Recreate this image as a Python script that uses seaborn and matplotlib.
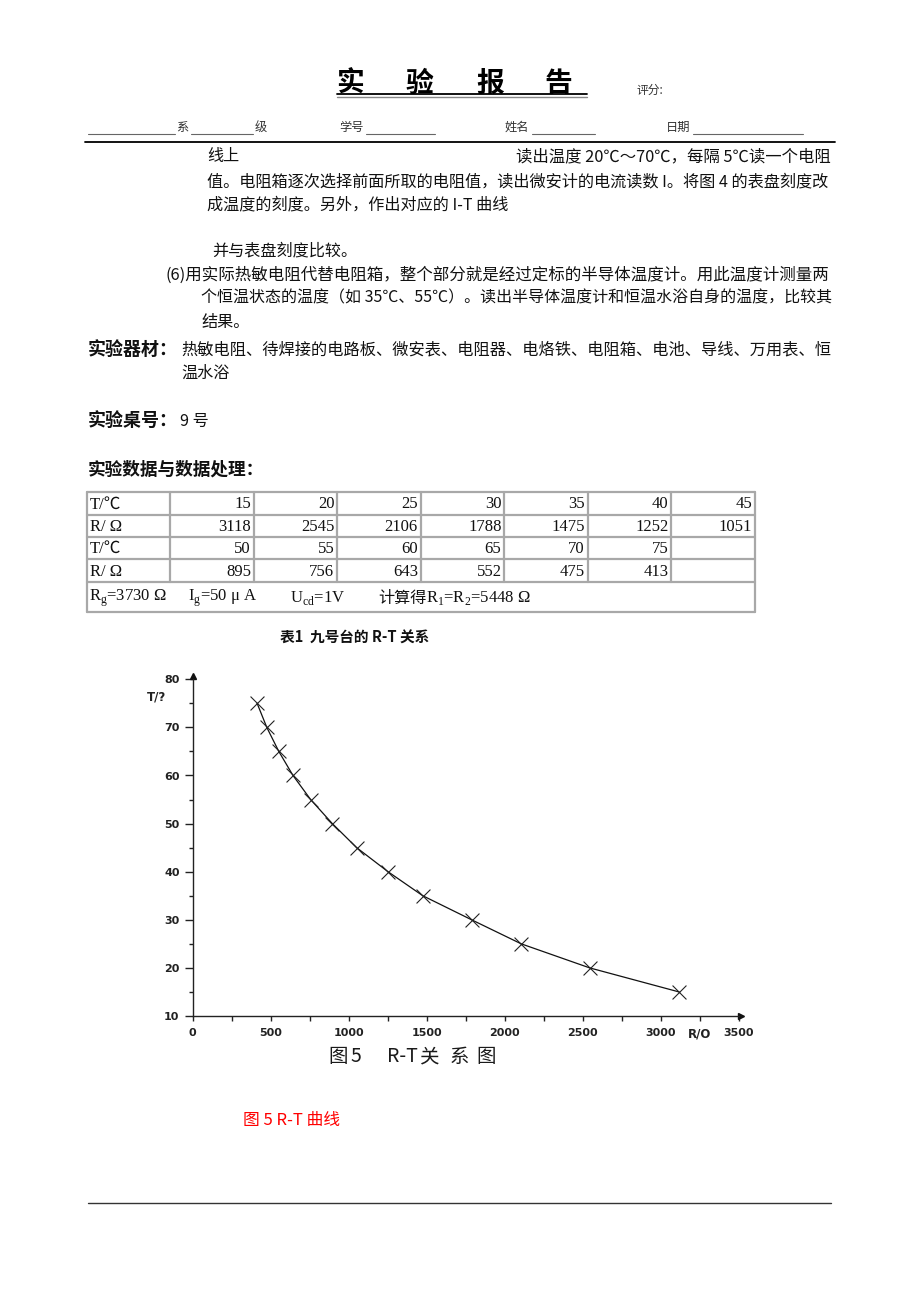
import matplotlib
matplotlib.use("Agg")
import matplotlib.pyplot as plt
import seaborn as sns
import pandas as pd

sns.set_theme(style="white")
plt.rcParams['font.family'] = ['Noto Sans CJK SC', 'DejaVu Sans']
plt.rcParams['axes.unicode_minus'] = False

# ---------------- data ----------------
temps = [15, 20, 25, 30, 35, 40, 45, 50, 55, 60, 65, 70, 75]
resist = [3118, 2545, 2106, 1788, 1475, 1252, 1051, 895, 756, 643, 552, 475, 413]
table_row1 = ["T/℃", "15", "20", "25", "30", "35", "40", "45"]
table_row2 = ["R/ Ω", "3118", "2545", "2106", "1788", "1475", "1252", "1051"]
table_row3 = ["T/℃", "50", "55", "60", "65", "70", "75", ""]
table_row4 = ["R/ Ω", "895", "756", "643", "552", "475", "413", ""]
x_ticks_major = [0, 500, 1000, 1500, 2000, 2500, 3000, 3500]
y_ticks_major = [10, 20, 30, 40, 50, 60, 70, 80]

W, H = 920, 1302
fig = plt.figure(figsize=(W / 100, H / 100), dpi=100)
fig.patch.set_facecolor("white")

bg = fig.add_axes([0, 0, 1, 1])
bg.set_xlim(0, W)
bg.set_ylim(H, 0)
bg.axis("off")
renderer = fig.canvas.get_renderer()

CJK = ['Noto Sans CJK SC', 'DejaVu Sans']
SERIF = ['Liberation Serif', 'Noto Sans CJK SC', 'DejaVu Sans']
TXT = "#111111"

# ---------------- header ----------------
for ch, xc in zip(["实", "验", "报", "告"], [350, 419, 490, 558]):
    bg.text(xc, 84, ch, fontsize=20, fontweight="bold", ha="center", va="center",
            family=CJK, color="#000")
bg.plot([337, 587], [93.5, 93.5], color="#000", lw=1.3)
bg.plot([337, 587], [96.5, 96.5], color="#888", lw=1.0)
bg.text(637, 90, "评分:", fontsize=8.5, ha="left", va="center", family=CJK, color="#333")

hdr_y = 127
for s, xv in [("系", 176), ("级", 255), ("学号", 339), ("姓名", 505), ("日期", 666)]:
    bg.text(xv, hdr_y, s, fontsize=8.8, ha="left", va="center", family=CJK, color="#333")
for x0, x1 in [(88, 175), (191, 253), (366, 435), (532, 595), (693, 803)]:
    bg.plot([x0, x1], [hdr_y + 7, hdr_y + 7], color="#666", lw=0.8)
bg.plot([85, 835], [141.5, 141.5], color="#000", lw=1.3)

# ---------------- body text ----------------
FS = 11.6
def body(x, y, s, fs=FS, right=None, **kw):
    t = bg.text(x, y, s, fontsize=fs, ha="left", va="center", family=CJK,
                color=kw.pop("color", TXT), **kw)
    if right is not None:
        w = t.get_window_extent(renderer=renderer).width
        t.set_fontsize(fs * (right - x) / w)
    return t

body(207, 157, "线上")
body(516, 157, "读出温度 20℃～70℃，每隔 5℃读一个电阻", right=831)
body(207, 182, "值。电阻箱逐次选择前面所取的电阻值，读出微安计的电流读数 I。将图 4 的表盘刻度改", right=831)
body(207, 205, "成温度的刻度。另外，作出对应的 I-T 曲线")
body(212, 251, "并与表盘刻度比较。")
body(166, 275, "(6)用实际热敏电阻代替电阻箱，整个部分就是经过定标的半导体温度计。用此温度计测量两", right=831)
body(201, 298, "个恒温状态的温度（如 35℃、55℃）。读出半导体温度计和恒温水浴自身的温度，比较其", right=831)
body(201, 322, "结果。")
body(88, 350, "实验器材：", right=178, fontweight="bold")
body(181, 350, "热敏电阻、待焊接的电路板、微安表、电阻器、电烙铁、电阻箱、电池、导线、万用表、恒", right=831)
body(181, 373, "温水浴")
body(88, 421, "实验桌号：", right=178, fontweight="bold")
body(180, 421, "9 号")
body(88, 470, "实验数据与数据处理：", right=265, fontweight="bold")

# ---------------- table ----------------
col_edges = [87 + 83.5 * i for i in range(9)]
row_edges = [492, 515, 537, 559, 582, 612]
grid_c = "#a8a8a8"
for yv in row_edges:
    bg.plot([col_edges[0], col_edges[-1]], [yv, yv], color=grid_c, lw=1.6)
bg.plot([col_edges[0], col_edges[0]], [row_edges[0], row_edges[-1]], color=grid_c, lw=1.6)
bg.plot([col_edges[-1], col_edges[-1]], [row_edges[0], row_edges[-1]], color=grid_c, lw=1.6)
for xv in col_edges[1:-1]:
    bg.plot([xv, xv], [row_edges[0], row_edges[4]], color=grid_c, lw=1.6)

rows = [table_row1, table_row2, table_row3, table_row4]
for r, row in enumerate(rows):
    yc = (row_edges[r] + row_edges[r + 1]) / 2 + 1
    for c, val in enumerate(row):
        if not val:
            continue
        if c == 0:
            bg.text(col_edges[0] + 3, yc, val, fontsize=12, ha="left", va="center",
                    family=SERIF, color=TXT)
        else:
            bg.text(col_edges[c + 1] - 3, yc, val, fontsize=12, ha="right", va="center",
                    family=SERIF, color=TXT)

y5 = (row_edges[4] + row_edges[5]) / 2 + 1
bg.text(89, y5, r"R$_\mathregular{g}$=3730 Ω", fontsize=12, ha="left", va="center", family=SERIF, color=TXT)
bg.text(188, y5, r"I$_\mathregular{g}$=50 μ A", fontsize=12, ha="left", va="center", family=SERIF, color=TXT)
bg.text(290, y5, r"U$_\mathregular{cd}$=1V", fontsize=12, ha="left", va="center", family=SERIF, color=TXT)
bg.text(378, y5, "计算得", fontsize=11.6, ha="left", va="center", family=CJK, color=TXT)
bg.text(426, y5, r"R$_\mathregular{1}$=R$_\mathregular{2}$=5448 Ω", fontsize=12, ha="left", va="center",
        family=SERIF, color=TXT)

body(280, 638, "表1  九号台的 R-T 关系", fs=9.5, right=430, fontweight="bold")

# ---------------- chart ----------------
x0px, x1px = 192.7, 738.7
ytop, ybot = 679.3, 1016.0
ax = fig.add_axes([x0px / W, 1 - ybot / H, (x1px - x0px) / W, (ybot - ytop) / H])
ax.set_facecolor("none")

df = pd.DataFrame({"R": resist, "T": temps})
sns.lineplot(data=df, x="R", y="T", ax=ax, color="#111", lw=0.9, sort=True, estimator=None)
sns.scatterplot(data=df, x="R", y="T", ax=ax, marker="x", s=100, color="#222",
                linewidth=0.8, zorder=3)

ax.set_xlim(0, 3500)
ax.set_ylim(10, 80)
sns.despine(ax=ax)
for sp in ["left", "bottom"]:
    ax.spines[sp].set_color("#222")
    ax.spines[sp].set_linewidth(1.0)

ax.set_xticks(x_ticks_major)
ax.set_xticks([250, 750, 1250, 1750, 2250, 2750, 3250], minor=True)
ax.set_yticks(y_ticks_major)
ax.set_yticks([15, 25, 35, 45, 55, 65, 75], minor=True)
ax.tick_params(axis="x", which="both", direction="out", length=3.5, width=1.0,
               color="#222", pad=5, labelsize=8, labelcolor="#222", bottom=True)
ax.tick_params(axis="y", which="major", direction="out", length=5.5, width=1.0,
               color="#222", pad=4, labelsize=8, labelcolor="#222", left=True)
ax.tick_params(axis="y", which="minor", direction="out", length=3, width=1.0,
               color="#222", left=True)
for lab in ax.get_xticklabels() + ax.get_yticklabels():
    lab.set_fontweight("bold")
    lab.set_family("DejaVu Sans")
ax.set_xlabel("")
ax.set_ylabel("")
ax.grid(False)

ax.plot([0], [1.01], marker="^", ms=4, color="#111", transform=ax.transAxes, clip_on=False)
ax.plot([1.005], [0], marker=">", ms=4, color="#111", transform=ax.transAxes, clip_on=False)

bg.text(157, 697, "T/?", fontsize=8.5, fontweight="bold", ha="center", va="center",
        family="DejaVu Sans", color="#222")
bg.text(700, 1034, "R/O", fontsize=8.5, fontweight="bold", ha="center", va="center",
        family="DejaVu Sans", color="#222")

for s, xv in [("图", 328), ("5", 351), ("R-T", 387), ("关", 419), ("系", 450), ("图", 476)]:
    bg.text(xv, 1057, s, fontsize=14, ha="left", va="center", family=CJK, color="#1a1a1a")

t_red = bg.text(243, 1120, "图 5 R-T 曲线", fontsize=11, ha="left", va="center", family=CJK, color="#ff0000")
w_red = t_red.get_window_extent(renderer=renderer).width
t_red.set_fontsize(11 * 97 / w_red)

bg.plot([88, 831], [1203, 1203], color="#333", lw=1.0)

fig.savefig("out.png", dpi=100, facecolor="white")
